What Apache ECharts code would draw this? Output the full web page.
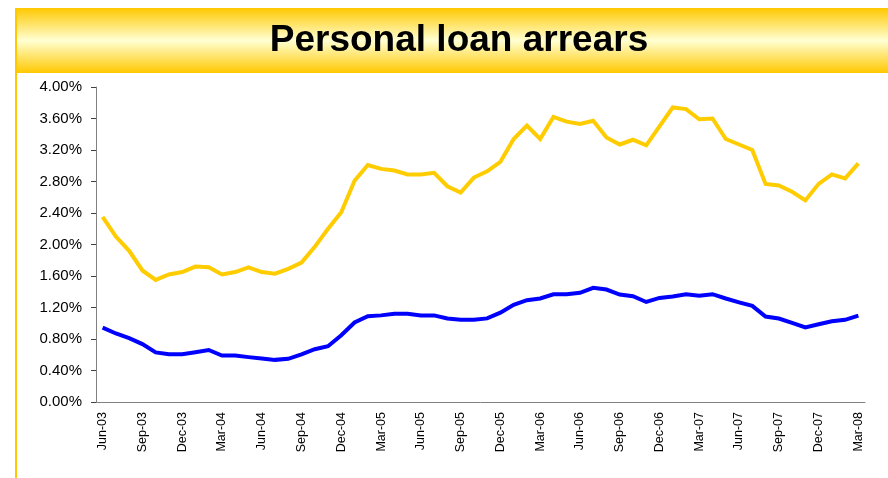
<!DOCTYPE html>
<html>
<head>
<meta charset="utf-8">
<style>
  html, body { margin: 0; padding: 0; background: #ffffff; }
  #chart { width: 888px; height: 478px; }
</style>
<script src="https://cdn.jsdelivr.net/npm/echarts@6/dist/echarts.min.js"></script>
</head>
<body>
<div id="chart"></div>
<script>
// Monthly categories, Jun-03 to Mar-08
const months = [
  'Jun-03','Jul-03','Aug-03','Sep-03','Oct-03','Nov-03','Dec-03',
  'Jan-04','Feb-04','Mar-04','Apr-04','May-04','Jun-04','Jul-04','Aug-04','Sep-04','Oct-04','Nov-04','Dec-04',
  'Jan-05','Feb-05','Mar-05','Apr-05','May-05','Jun-05','Jul-05','Aug-05','Sep-05','Oct-05','Nov-05','Dec-05',
  'Jan-06','Feb-06','Mar-06','Apr-06','May-06','Jun-06','Jul-06','Aug-06','Sep-06','Oct-06','Nov-06','Dec-06',
  'Jan-07','Feb-07','Mar-07','Apr-07','May-07','Jun-07','Jul-07','Aug-07','Sep-07','Oct-07','Nov-07','Dec-07',
  'Jan-08','Feb-08','Mar-08'
];

// Arrears rates, in percent
const arrearsHigh = [
  2.35, 2.10, 1.92, 1.67, 1.55, 1.62, 1.65,
  1.72, 1.71, 1.62, 1.65, 1.71, 1.65, 1.63, 1.69, 1.77, 1.97, 2.20, 2.41,
  2.81, 3.01, 2.96, 2.94, 2.89, 2.89, 2.91, 2.74, 2.66, 2.85, 2.93, 3.05,
  3.34, 3.51, 3.34, 3.62, 3.56, 3.53, 3.57, 3.36, 3.27, 3.33, 3.26, 3.50,
  3.74, 3.72, 3.59, 3.60, 3.34, 3.27, 3.20, 2.77, 2.75, 2.67, 2.56, 2.77,
  2.89, 2.84, 3.03
];

const arrearsLow = [
  0.945, 0.87, 0.81, 0.735, 0.63, 0.607, 0.607,
  0.632, 0.66, 0.59, 0.59, 0.57, 0.552, 0.535, 0.548, 0.605, 0.67, 0.708, 0.848,
  1.01, 1.09, 1.10, 1.12, 1.12, 1.10, 1.10, 1.06, 1.043, 1.045, 1.062, 1.135,
  1.235, 1.293, 1.314, 1.367, 1.367, 1.386, 1.45, 1.428, 1.365, 1.343, 1.27, 1.322,
  1.34, 1.369, 1.348, 1.369, 1.314, 1.265, 1.22, 1.085, 1.06, 1.005, 0.946, 0.988,
  1.026, 1.043, 1.098
];

const titleText = 'Personal loan arrears';

const FONT = '"Liberation Sans", Arial, Helvetica, sans-serif';

const chart = echarts.init(document.getElementById('chart'), null, { renderer: 'canvas' });

chart.setOption({
  backgroundColor: '#ffffff',
  animation: false,
  graphic: [
    // title banner with a vertical gold gradient
    {
      type: 'rect',
      z: 0,
      shape: { x: 16, y: 8, width: 880, height: 65 },
      style: {
        fill: new echarts.graphic.LinearGradient(0, 0, 0, 1, [
          { offset: 0, color: '#FFC800' },
          { offset: 0.5, color: '#FFFFD2' },
          { offset: 1, color: '#FFC800' }
        ])
      }
    },
    // left frame rule
    {
      type: 'rect',
      z: 0,
      shape: { x: 15, y: 8, width: 2, height: 470 },
      style: { fill: '#FFC800' }
    },
    {
      type: 'text',
      z: 10,
      x: 459,
      y: 41,
      style: {
        text: titleText,
        font: 'bold 37px ' + FONT,
        fill: '#000000',
        textAlign: 'center',
        textVerticalAlign: 'middle'
      }
    }
  ],
  grid: { left: 96, right: 23, top: 87, bottom: 76, containLabel: false },
  xAxis: {
    type: 'category',
    data: months,
    boundaryGap: true,
    axisLine: { lineStyle: { color: '#808080', width: 1 } },
    axisTick: { interval: 2, length: 5, lineStyle: { color: '#404040' } },
    axisLabel: {
      interval: 2,
      rotate: 90,
      margin: 10,
      fontSize: 12.5,
      fontFamily: FONT,
      color: '#000000'
    },
    splitLine: { show: false }
  },
  yAxis: {
    type: 'value',
    min: 0,
    max: 4,
    interval: 0.4,
    axisLine: { show: true, lineStyle: { color: '#808080', width: 1 } },
    axisTick: { show: true, length: 5, lineStyle: { color: '#404040' } },
    axisLabel: {
      margin: 14,
      fontSize: 15,
      fontFamily: FONT,
      color: '#000000',
      formatter: v => v.toFixed(2) + '%'
    },
    splitLine: { show: false }
  },
  series: [
    {
      name: 'Series 1',
      type: 'line',
      data: arrearsHigh,
      showSymbol: false,
      symbol: 'none',
      lineStyle: { color: '#FFCC00', width: 4, join: 'miter' },
      itemStyle: { color: '#FFCC00' }
    },
    {
      name: 'Series 2',
      type: 'line',
      data: arrearsLow,
      showSymbol: false,
      symbol: 'none',
      lineStyle: { color: '#0000FF', width: 4, join: 'miter' },
      itemStyle: { color: '#0000FF' }
    }
  ]
});
</script>
</body>
</html>
